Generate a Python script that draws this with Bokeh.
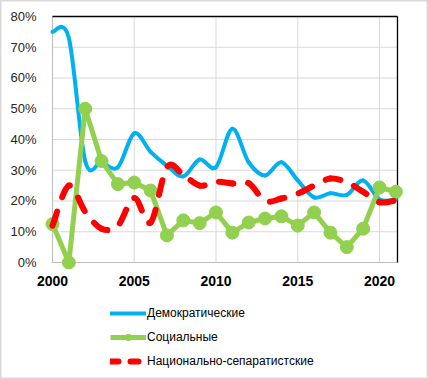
from bokeh.plotting import figure
from bokeh.models import Range1d, Legend, LegendItem
from bokeh.core.properties import value
from bokeh.embed import file_html
from bokeh.resources import INLINE
import math

years = list(range(2000, 2022))
democratic = [0.75, 0.73, 0.33, 0.325, 0.31, 0.42, 0.36, 0.315, 0.28, 0.335, 0.31, 0.435,
              0.326, 0.283, 0.326, 0.267, 0.212, 0.225, 0.22, 0.267, 0.205, 0.205]
social = [0.125, 0.0, 0.50, 0.33, 0.255, 0.26, 0.234, 0.088, 0.137, 0.128, 0.163, 0.097,
          0.13, 0.143, 0.15, 0.12, 0.163, 0.097, 0.05, 0.11, 0.244, 0.23]
national = [0.12, 0.25, 0.165, 0.11, 0.12, 0.21, 0.13, 0.31, 0.285, 0.25, 0.263, 0.257,
            0.258, 0.20, 0.208, 0.224, 0.25, 0.273, 0.261, 0.23, 0.196, 0.202]
series_names = ["Демократические", "Социальные", "Национально-сепаратистские"]
x_ticks = [2000, 2005, 2010, 2015, 2020]
x_labels = ["2000", "2005", "2010", "2015", "2020"]
y_ticks = [0.0, 0.1, 0.2, 0.3, 0.4, 0.5, 0.6, 0.7, 0.8]
y_labels = ["0%", "10%", "20%", "30%", "40%", "50%", "60%", "70%", "80%"]

W, H = 428, 379
X_START = 1996.8196
X_END_VIEW = 2022.9969
Y_START = -0.38049
Y_END_VIEW = 0.85203
X_END = 2021.1  # right edge of the plot area

p = figure(width=W, height=H, frame_width=W, frame_height=H, output_backend="svg",
           toolbar_location=None, x_axis_location=None, y_axis_location=None,
           x_range=Range1d(X_START, X_END_VIEW), y_range=Range1d(Y_START, Y_END_VIEW),
           min_border=0, min_border_left=0, min_border_right=0, min_border_top=0,
           min_border_bottom=0)
p.outline_line_color = "#D9D9D9"
p.outline_line_width = 2
p.grid.visible = False

# gridlines
p.segment(x0=x_ticks, y0=[y_ticks[0]] * len(x_ticks), x1=x_ticks, y1=[y_ticks[-1]] * len(x_ticks),
          line_color="#D9D9D9", line_width=1)
p.segment(x0=[x_ticks[0]] * len(y_ticks), y0=y_ticks, x1=[X_END] * len(y_ticks), y1=y_ticks,
          line_color="#D9D9D9", line_width=1)
# plot-area frame
p.segment(x0=[x_ticks[0], x_ticks[0]], y0=[y_ticks[0], y_ticks[0]],
          x1=[x_ticks[0], X_END], y1=[y_ticks[-1], y_ticks[0]], line_color="#BFBFBF", line_width=1)
p.segment(x0=[x_ticks[0], X_END], y0=[y_ticks[-1], y_ticks[0]],
          x1=[X_END, X_END], y1=[y_ticks[-1], y_ticks[-1]], line_color="black", line_width=1.3)

KX = W / (X_END_VIEW - X_START)
KY = H / (Y_END_VIEW - Y_START)


def smooth(xs, ys, period=None):
    n = len(xs)
    out = dict(x0=[], y0=[], x1=[], y1=[], cx0=[], cy0=[], cx1=[], cy1=[], off=[])
    cum = 0.0
    for i in range(n - 1):
        ip = max(i - 1, 0)
        inn = min(i + 2, n - 1)
        P0 = (xs[i], ys[i])
        P3 = (xs[i + 1], ys[i + 1])
        C1 = (xs[i] + (xs[i + 1] - xs[ip]) / 6, ys[i] + (ys[i + 1] - ys[ip]) / 6)
        C2 = (xs[i + 1] - (xs[inn] - xs[i]) / 6, ys[i + 1] - (ys[inn] - ys[i]) / 6)
        out["x0"].append(P0[0]); out["y0"].append(P0[1])
        out["x1"].append(P3[0]); out["y1"].append(P3[1])
        out["cx0"].append(C1[0]); out["cy0"].append(C1[1])
        out["cx1"].append(C2[0]); out["cy1"].append(C2[1])
        out["off"].append(int(round(cum % period)) if period else 0)
        # screen length of this segment (for continuous dashing)
        prev = None
        L = 0.0
        for k in range(41):
            t = k / 40
            a, b, c, d = (1 - t) ** 3, 3 * (1 - t) ** 2 * t, 3 * (1 - t) * t ** 2, t ** 3
            sx = (a * P0[0] + b * C1[0] + c * C2[0] + d * P3[0]) * KX
            sy = (a * P0[1] + b * C1[1] + c * C2[1] + d * P3[1]) * KY
            if prev:
                L += math.hypot(sx - prev[0], sy - prev[1])
            prev = (sx, sy)
        cum += L
    return out

BLUE = "#00B0F0"
GREEN = "#92D050"
RED = "#FF0000"

p.bezier(source=smooth(years, democratic), x0="x0", y0="y0", x1="x1", y1="y1",
         cx0="cx0", cy0="cy0", cx1="cx1", cy1="cy1", line_color=BLUE, line_width=4, line_cap="round")
g_line = p.line(years, social, line_color=GREEN, line_width=5, line_join="round")
g_pts = p.scatter(years, social, size=13, fill_color=GREEN, line_color=GREEN)
p.bezier(source=smooth(years, national, period=30), x0="x0", y0="y0", x1="x1", y1="y1",
         cx0="cx0", cy0="cy0", cx1="cx1", cy1="cy1", line_color=RED, line_width=6,
         line_cap="round", line_dash="15 15", line_dash_offset="off")

# tick labels
p.text(x=x_ticks, y=[y_ticks[0]] * len(x_ticks), text=x_labels, text_align="center",
       text_baseline="middle", y_offset=19, text_font=value("Liberation Sans"),
       text_font_style="bold", text_font_size="14px", text_color="black")
p.text(x=[x_ticks[0]] * len(y_ticks), y=y_ticks, text=y_labels, text_align="right",
       text_baseline="middle", x_offset=-16, text_font=value("Liberation Sans"),
       text_font_size="13px", text_color="#262626")

# legend proxies (single NaN point, so nothing is drawn in the plot)
nan = float("nan")
b_leg = p.line(x=[nan], y=[nan], line_color=BLUE, line_width=4, line_cap="round")
r_leg = p.line(x=[nan], y=[nan], line_color=RED, line_width=6, line_cap="round", line_dash="8 12")

legend = Legend(items=[LegendItem(label=series_names[0], renderers=[b_leg]),
                       LegendItem(label=series_names[1], renderers=[g_line, g_pts]),
                       LegendItem(label=series_names[2], renderers=[r_leg])],
                location=(110, 10), border_line_color=None, background_fill_alpha=0,
                padding=0, margin=0, spacing=8, glyph_width=36, glyph_height=16,
                label_height=16, label_standoff=1, label_text_font_size="12px",
                label_text_font="Liberation Sans", label_text_color="black")
p.add_layout(legend)

open("out.html", "w").write(file_html(p, INLINE))
